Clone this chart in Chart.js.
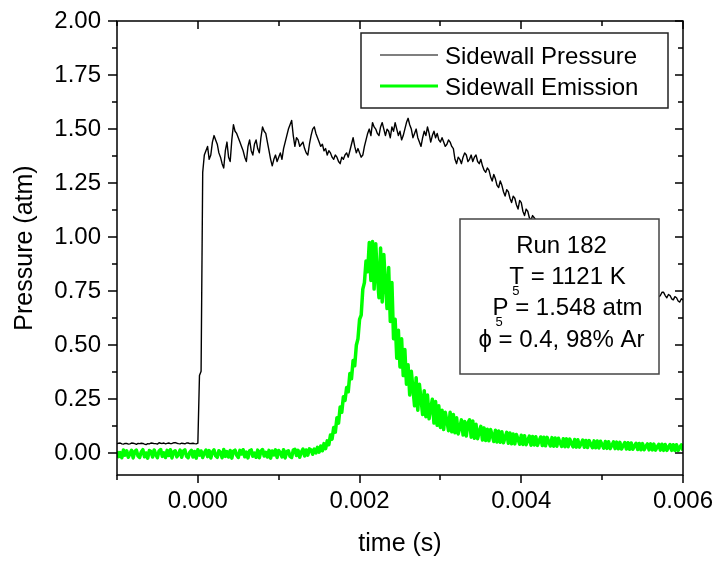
<!DOCTYPE html>
<html lang="en">
<head>
    <meta charset="UTF-8">
    <title>Sidewall Pressure and Emission - Run 182</title>
    <script src="https://cdn.jsdelivr.net/npm/chart.js@4.4.0/dist/chart.umd.min.js"></script>
    <style>
        body {
            margin: 0;
            background-color: #fff;
        }
        .chart-box {
            position: relative;
            width: 719px;
            height: 562px;
        }
    </style>
</head>
<body>
    <div class="chart-box">
        <canvas id="tracePlot"></canvas>
    </div>

    <script>
        // scope record: one sample every 20 us starting 1 ms before shock arrival
        const sampleStart = -0.001;
        const sampleStep = 0.00002;

        const pressureAtm = [
            0.045, 0.047, 0.048, 0.044, 0.043, 0.046, 0.046, 0.043, 0.044, 0.048,
            0.047, 0.045, 0.042, 0.046, 0.045, 0.047, 0.046, 0.043, 0.041, 0.045,
            0.044, 0.048, 0.047, 0.045, 0.045, 0.043, 0.049, 0.047, 0.046, 0.048,
            0.044, 0.046, 0.048, 0.045, 0.046, 0.049, 0.050, 0.047, 0.045, 0.044,
            0.047, 0.046, 0.044, 0.048, 0.048, 0.045, 0.046, 0.047, 0.045, 0.044,
            0.047, 0.36, 0.38, 1.30, 1.38, 1.40, 1.42, 1.36, 1.38, 1.44,
            1.47, 1.45, 1.43, 1.39, 1.37, 1.34, 1.32, 1.40, 1.44, 1.37,
            1.35, 1.45, 1.52, 1.49, 1.48, 1.46, 1.44, 1.42, 1.40, 1.37,
            1.35, 1.42, 1.45, 1.40, 1.38, 1.43, 1.45, 1.41, 1.39, 1.46,
            1.51, 1.49, 1.48, 1.44, 1.40, 1.36, 1.33, 1.36, 1.38, 1.35,
            1.37, 1.39, 1.36, 1.41, 1.44, 1.47, 1.50, 1.52, 1.54, 1.47,
            1.42, 1.46, 1.45, 1.42, 1.43, 1.44, 1.41, 1.39, 1.38, 1.43,
            1.47, 1.50, 1.51, 1.48, 1.46, 1.44, 1.42, 1.43, 1.40, 1.41,
            1.38, 1.40, 1.39, 1.37, 1.36, 1.38, 1.37, 1.35, 1.34, 1.37,
            1.36, 1.38, 1.39, 1.37, 1.40, 1.43, 1.46, 1.42, 1.39, 1.41,
            1.39, 1.37, 1.38, 1.42, 1.45, 1.48, 1.50, 1.47, 1.53, 1.51,
            1.50, 1.48, 1.47, 1.51, 1.53, 1.50, 1.47, 1.50, 1.49, 1.46,
            1.51, 1.49, 1.53, 1.50, 1.47, 1.49, 1.45, 1.47, 1.50, 1.53,
            1.55, 1.52, 1.50, 1.46, 1.48, 1.50, 1.46, 1.44, 1.42, 1.46,
            1.49, 1.47, 1.51, 1.48, 1.44, 1.47, 1.49, 1.46, 1.48, 1.45,
            1.44, 1.46, 1.44, 1.42, 1.43, 1.45, 1.44, 1.42, 1.41, 1.36,
            1.34, 1.37, 1.36, 1.34, 1.37, 1.39, 1.38, 1.35, 1.36, 1.38,
            1.35, 1.37, 1.38, 1.35, 1.34, 1.36, 1.33, 1.31, 1.30, 1.32,
            1.31, 1.28, 1.26, 1.29, 1.27, 1.24, 1.23, 1.26, 1.24, 1.21,
            1.19, 1.22, 1.21, 1.18, 1.16, 1.19, 1.18, 1.15, 1.13, 1.17,
            1.16, 1.12, 1.10, 1.13, 1.12, 1.09, 1.08, 1.10, 1.09, 1.08,
            1.07, 1.08, 1.06, 1.05, 1.06, 1.04, 1.05, 1.04, 1.03, 1.02,
            1.03, 1.01, 1.02, 1.00, 1.01, 0.99, 0.99, 0.98, 0.99, 0.97,
            0.97, 0.96, 0.97, 0.95, 0.95, 0.94, 0.95, 0.93, 0.93, 0.92,
            0.93, 0.91, 0.91, 0.90, 0.91, 0.89, 0.89, 0.88, 0.89, 0.87,
            0.87, 0.86, 0.87, 0.85, 0.85, 0.84, 0.85, 0.83, 0.83, 0.82,
            0.83, 0.81, 0.81, 0.80, 0.81, 0.80, 0.79, 0.80, 0.79, 0.78,
            0.78, 0.77, 0.78, 0.76, 0.77, 0.76, 0.76, 0.75, 0.76, 0.75,
            0.75, 0.74, 0.74, 0.745, 0.74, 0.725, 0.73, 0.745, 0.745, 0.73,
            0.72, 0.735, 0.73, 0.715, 0.71, 0.725, 0.72, 0.705, 0.70, 0.715,
            0.71
        ];

        // normalised emission, same sample clock
        const emissionSignal = [
            0.010, -0.015, 0.004, -0.020, 0.016, -0.008, 0.012, -0.018, -0.002, 0.014,
            -0.021, 0.008, 0.015, -0.012, -0.019, 0.006, 0.017, -0.016, 0.002, -0.022,
            0.013, 0.009, -0.017, 0.016, -0.006, -0.020, 0.011, 0.018, -0.014, 0.003,
            -0.019, 0.014, -0.010, 0.017, -0.021, 0.007, 0.012, -0.016, -0.004, 0.015,
            -0.018, 0.010, 0.016, -0.013, -0.020, 0.005, 0.014, -0.017, 0.009, -0.022,
            0.017, -0.008, 0.011, -0.019, 0.002, 0.015, -0.015, 0.013, -0.021, 0.006,
            0.016, -0.011, -0.018, 0.012, 0.004, -0.020, 0.018, -0.014, 0.008, -0.017,
            0.013, -0.022, 0.010, 0.015, -0.009, -0.019, 0.014, -0.003, 0.017, -0.016,
            0.006, -0.021, 0.012, 0.016, -0.013, 0.001, -0.018, 0.015, -0.020, 0.009,
            0.018, -0.012, 0.005, -0.017, 0.014, -0.022, 0.011, -0.007, 0.016, -0.019,
            0.013, 0.003, -0.016, 0.017, -0.021, 0.008, 0.012, -0.014, -0.019, 0.015,
            0.019, -0.010, 0.014, -0.018, 0.006, 0.020, -0.012, 0.016, -0.008, 0.021,
            0.016, -0.004, 0.020, 0.002, 0.028, 0.006, 0.034, 0.012, 0.045, 0.022,
            0.058, 0.040, 0.085, 0.066, 0.120, 0.098, 0.165, 0.140, 0.215, 0.190,
            0.262, 0.245, 0.305, 0.285, 0.370, 0.345, 0.430, 0.405, 0.500, 0.530,
            0.620, 0.640, 0.760, 0.790, 0.890, 0.840, 0.975, 0.800, 0.980, 0.760,
            0.970, 0.820, 0.720, 0.950, 0.700, 0.920, 0.780, 0.670, 0.860, 0.610,
            0.790, 0.530, 0.620, 0.440, 0.570, 0.400, 0.530, 0.360, 0.480, 0.320,
            0.410, 0.270, 0.380, 0.300, 0.220, 0.350, 0.200, 0.320, 0.250, 0.180,
            0.290, 0.170, 0.270, 0.160, 0.210, 0.250, 0.140, 0.240, 0.130, 0.220,
            0.120, 0.200, 0.110, 0.190, 0.150, 0.105, 0.190, 0.100, 0.180, 0.095,
            0.165, 0.090, 0.120, 0.155, 0.085, 0.148, 0.080, 0.140, 0.155, 0.075,
            0.150, 0.070, 0.135, 0.068, 0.100, 0.125, 0.062, 0.118, 0.060, 0.112,
            0.058, 0.110, 0.085, 0.055, 0.107, 0.053, 0.104, 0.051, 0.100, 0.049,
            0.075, 0.097, 0.047, 0.094, 0.045, 0.090, 0.044, 0.087, 0.065, 0.042,
            0.084, 0.041, 0.082, 0.040, 0.060, 0.080, 0.038, 0.078, 0.039, 0.077,
            0.037, 0.058, 0.076, 0.036, 0.075, 0.035, 0.074, 0.052, 0.034, 0.073,
            0.033, 0.071, 0.033, 0.070, 0.050, 0.032, 0.068, 0.031, 0.067, 0.031,
            0.066, 0.047, 0.030, 0.064, 0.029, 0.063, 0.029, 0.045, 0.062, 0.028,
            0.060, 0.027, 0.059, 0.042, 0.026, 0.058, 0.026, 0.057, 0.025, 0.056,
            0.040, 0.024, 0.055, 0.023, 0.054, 0.022, 0.038, 0.053, 0.022, 0.052,
            0.021, 0.051, 0.020, 0.036, 0.050, 0.020, 0.049, 0.019, 0.048, 0.019,
            0.034, 0.047, 0.018, 0.046, 0.017, 0.045, 0.017, 0.032, 0.044, 0.016,
            0.044, 0.016, 0.043, 0.015, 0.030, 0.042, 0.015, 0.042, 0.014, 0.041,
            0.014, 0.029, 0.041, 0.014, 0.040, 0.013, 0.040, 0.013, 0.028, 0.039,
            0.013
        ];

        const seriesNames = ['Sidewall Pressure', 'Sidewall Emission'];
        const seriesColors = ['#000000', '#00ff00'];

        // each note line is a list of [text, isSubscript]
        const runNotes = [
            [['Run 182', false]],
            [['T', false], ['5', true], [' = 1121 K', false]],
            [['P', false], ['5', true], [' = 1.548 atm', false]],
            [['\u03d5 = 0.4, 98% Ar', false]]
        ];

        const fontFamily = "'Liberation Sans', Arial, Helvetica, sans-serif";
        Chart.defaults.font.family = fontFamily;
        Chart.defaults.color = '#000';

        const sampleTimes = pressureAtm.map((_, i) => sampleStart + i * sampleStep);
        const toPoints = values => values.map((v, i) => ({x: sampleTimes[i], y: v}));

        // boxed run conditions, drawn over the traces
        const notePlugin = {
            id: 'runNote',
            afterDraw(chart) {
                const {ctx, chartArea: a} = chart;
                const left = a.right - 223;
                const top = a.top + 198;
                const w = 199, h = 155;
                const baselines = [34, 65, 96, 127.5];
                ctx.save();
                ctx.fillStyle = '#fff';
                ctx.fillRect(left, top, w, h);
                ctx.strokeStyle = '#444';
                ctx.lineWidth = 1.5;
                ctx.strokeRect(left, top, w, h);
                ctx.fillStyle = '#000';
                ctx.textBaseline = 'alphabetic';
                ctx.textAlign = 'left';
                runNotes.forEach((line, li) => {
                    ctx.font = '24px ' + fontFamily;
                    let total = 0;
                    let hasSub = false;
                    line.forEach(([txt, sub]) => {
                        if (sub) hasSub = true;
                        else total += ctx.measureText(txt).width;
                    });
                    let x = left + w / 2 + 2 - total / 2 + (hasSub ? 6 : 0);
                    let prevX = x;
                    const base = top + baselines[li];
                    line.forEach(([txt, sub]) => {
                        if (sub) {
                            ctx.font = '13px ' + fontFamily;
                            ctx.fillText(txt, prevX + 3, base + 11);
                            ctx.font = '24px ' + fontFamily;
                        } else {
                            ctx.fillText(txt, x, base);
                            prevX = x;
                            x += ctx.measureText(txt).width;
                        }
                    });
                });
                ctx.restore();
            }
        };

        const legendPlugin = {
            id: 'traceLegend',
            afterDraw(chart) {
                const {ctx, chartArea: a} = chart;
                const left = a.right - 322;
                const top = a.top + 12;
                const rows = [22, 53];
                const widths = [1.2, 3];
                ctx.save();
                ctx.fillStyle = '#fff';
                ctx.fillRect(left, top, 307, 75);
                ctx.strokeStyle = '#222';
                ctx.lineWidth = 1.5;
                ctx.strokeRect(left, top, 307, 75);
                ctx.font = '24px ' + fontFamily;
                ctx.textAlign = 'left';
                ctx.textBaseline = 'alphabetic';
                seriesNames.forEach((name, i) => {
                    const y = top + rows[i];
                    ctx.strokeStyle = seriesColors[i];
                    ctx.lineWidth = widths[i];
                    ctx.beginPath();
                    ctx.moveTo(left + 19, y);
                    ctx.lineTo(left + 77, y);
                    ctx.stroke();
                    ctx.fillStyle = '#000';
                    ctx.fillText(name, left + 84, y + 8.6);
                });
                ctx.restore();
            }
        };

        // closed frame; ticks point out on bottom/left and in on top/right
        const framePlugin = {
            id: 'frame',
            afterDraw(chart) {
                const {ctx, chartArea: a, scales: {x, y}} = chart;
                ctx.save();
                ctx.strokeStyle = '#000';
                ctx.lineWidth = 1.5;
                ctx.strokeRect(a.left, a.top, a.right - a.left, a.bottom - a.top);
                ctx.beginPath();
                x.ticks.forEach(t => {
                    const px = Math.round(x.getPixelForValue(t.value));
                    const len = t.label !== '' ? 8 : 5;
                    ctx.moveTo(px, a.bottom);
                    ctx.lineTo(px, a.bottom + len);
                    ctx.moveTo(px, a.top);
                    ctx.lineTo(px, a.top + len);
                });
                y.ticks.forEach(t => {
                    const py = Math.round(y.getPixelForValue(t.value));
                    const major = t.label !== '';
                    ctx.moveTo(a.left, py);
                    ctx.lineTo(a.left - (major ? 9 : 5), py);
                    ctx.moveTo(a.right, py);
                    ctx.lineTo(a.right - (major ? 8 : 5), py);
                });
                ctx.stroke();
                ctx.restore();
            }
        };

        const ctx = document.getElementById('tracePlot').getContext('2d');
        new Chart(ctx, {
            type: 'line',
            data: {
                datasets: [
                    {
                        label: seriesNames[0],
                        data: toPoints(pressureAtm),
                        borderColor: seriesColors[0],
                        borderWidth: 1.4,
                        borderJoinStyle: 'round',
                        pointRadius: 0,
                        tension: 0,
                        clip: 0
                    },
                    {
                        label: seriesNames[1],
                        data: toPoints(emissionSignal),
                        borderColor: seriesColors[1],
                        borderWidth: 3.5,
                        borderJoinStyle: 'round',
                        pointRadius: 0,
                        tension: 0,
                        clip: 0
                    }
                ]
            },
            options: {
                responsive: true,
                maintainAspectRatio: false,
                animation: false,
                events: [],
                layout: { padding: { top: 21, right: 36, left: 0, bottom: 0 } },
                plugins: {
                    legend: { display: false },
                    tooltip: { enabled: false }
                },
                scales: {
                    x: {
                        type: 'linear',
                        min: -0.001,
                        max: 0.006,
                        grid: { display: false, drawTicks: false },
                        border: { display: false },
                        ticks: {
                            stepSize: 0.001,
                            autoSkip: false,
                            maxRotation: 0,
                            padding: 12,
                            font: { size: 24 },
                            color: '#000',
                            callback: v => (Math.round(v * 1000) % 2 === 0 ? (Math.abs(v) < 1e-9 ? 0 : v).toFixed(3) : '')
                        },
                        title: {
                            display: true,
                            text: 'time (s)',
                            font: { size: 25 },
                            color: '#000',
                            padding: { top: 0, bottom: 3 }
                        },
                        afterFit: s => {
                            s.height = 87;
                            s.paddingLeft = 0;
                            s.paddingRight = 0;
                        }
                    },
                    y: {
                        min: -0.1,
                        max: 2.0,
                        grid: { display: false, drawTicks: false },
                        border: { display: false },
                        ticks: {
                            stepSize: 0.125,
                            includeBounds: false,
                            autoSkip: false,
                            padding: 16,
                            font: { size: 24 },
                            color: '#000',
                            callback: v => (Math.abs(v * 4 - Math.round(v * 4)) < 1e-6 ? v.toFixed(2) : '')
                        },
                        title: {
                            display: true,
                            text: 'Pressure (atm)',
                            font: { size: 25 },
                            color: '#000',
                            padding: { top: 10, bottom: 0 }
                        },
                        afterFit: s => {
                            s.width = 117;
                            s.paddingTop = 0;
                            s.paddingBottom = 0;
                        }
                    }
                }
            },
            plugins: [notePlugin, legendPlugin, framePlugin]
        });
    </script>
</body>
</html>
